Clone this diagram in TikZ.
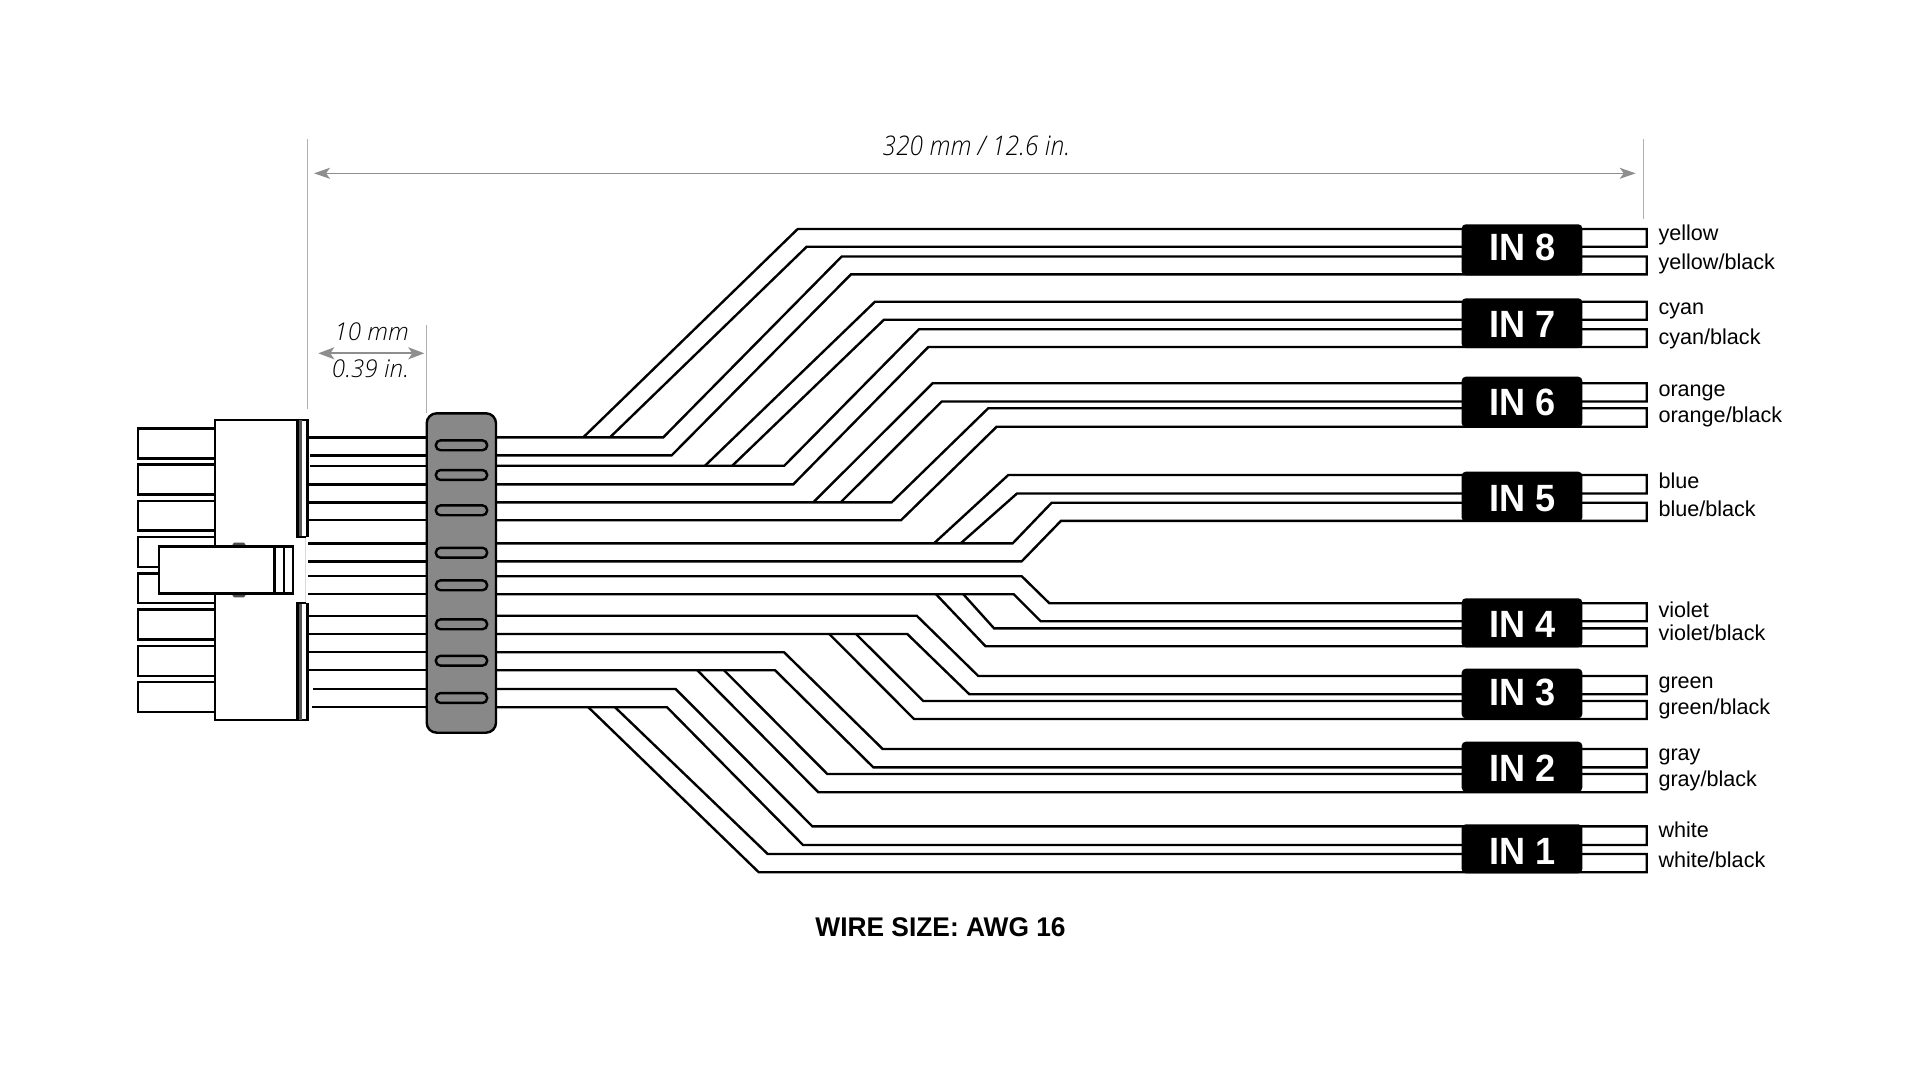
\documentclass[tikz,border=0pt]{standalone}
\usepackage{fontspec}
\usetikzlibrary{arrows.meta}
\setmainfont{Liberation Sans}
\newfontfamily\ltit{Open Sans Light Italic}[FakeStretch=0.91]
\newfontfamily\ltitw{Open Sans Light Italic}[FakeStretch=0.99]
\newfontfamily\inbold{Liberation Sans Bold}[FakeStretch=0.95]
\newfontfamily\wsbold{Liberation Sans Bold}[FakeStretch=0.975]
\definecolor{bandgray}{HTML}{888888}
\definecolor{extgray}{HTML}{B0B0B0}
\definecolor{arrgray}{HTML}{8E8E8E}
\tikzset{
  wire/.style={draw=black,line width=2.4pt,miter limit=10},
  part/.style={draw=black,fill=white,line width=2.4pt},
  extline/.style={draw=extgray,line width=1.5pt},
  bigdim/.style={draw=arrgray,line width=1.3pt,arrows={Stealth[length=16pt,width=11pt,inset=4pt]-Stealth[length=16pt,width=11pt,inset=4pt]}},
  smalldim/.style={draw=arrgray,line width=1.8pt,arrows={Stealth[length=16pt,width=12pt,inset=4pt]-Stealth[length=16pt,width=12pt,inset=4pt]}},
  dimtext/.style={anchor=base,inner sep=0pt,text=black,font=\ltitw\fontsize{24.5}{28}\selectfont},
  inbox/.style={fill=black,rounded corners=4pt,inner sep=0pt,draw=none},
  intext/.style={anchor=base,inner sep=0pt,text=white,font=\inbold\fontsize{38}{42}\selectfont},
  collabel/.style={anchor=base west,inner sep=0pt,text=black,font=\fontsize{21.6}{24}\selectfont},
}
\begin{document}
\begin{tikzpicture}[x=1pt,y=-1pt]
\useasboundingbox (0,0) rectangle (1920,1080);
\fill[white] (0,0) rectangle (1920,1080);
% extension lines and dimensions
\coordinate (extL) at (307.7,139.3);
\coordinate (extLb) at (307.7,409.3);
\coordinate (extR) at (1643.7,139.3);
\coordinate (extRb) at (1643.7,218.7);
\coordinate (extM) at (426.7,325);
\coordinate (extMb) at (426.7,413);
\draw[extline] (extL) -- (extLb);
\draw[extline] (extR) -- (extRb);
\draw[extline] (extM) -- (extMb);
\coordinate (bigL) at (314,173.3);
\coordinate (bigR) at (1635.7,173.3);
\coordinate (smL) at (318.3,353.3);
\coordinate (smR) at (424.3,353.3);
\draw[bigdim] (bigL) -- (bigR);
\draw[smalldim] (smL) -- (smR);
\node[dimtext,font=\ltit\fontsize{27}{30}\selectfont] (dimbig) at (976.3,155.7) {320 mm / 12.6 in.};
\node[dimtext] (dimmm) at (371.7,340.7) {10 mm};
\node[dimtext] (dimin) at (370.5,377.7) {0.39 in.};
% wires left of band
\foreach \ya/\xa in {437.3/308,455.3/310,465.7/310,484.3/308,502.3/308,520/308,543.3/308,561.3/308,576.2/308,594.2/308,615.7/308,634/308,652.2/308,670.2/308,689/313.3,707.2/312.3}
  \draw[wire] (\xa,\ya) -- (430,\ya);
% wires right of band: 16 paths, each out and back
% yellow
\draw[wire] (583.3,437.3) -- (797.7,229) -- (1646.7,229) -- (1646.7,246.7) -- (806.7,246.7) -- (610,437.3);
% yellow/black
\draw[wire] (490,437.3) -- (663.3,437.3) -- (841.7,256.5) -- (1646.7,256.5) -- (1646.7,274.3) -- (851,274.3) -- (671.7,455.3) -- (490,455.3);
% cyan
\draw[wire] (705,465.7) -- (875,301.7) -- (1646.7,301.7) -- (1646.7,319.7) -- (884,319.7) -- (732.3,465.7);
% cyan/black
\draw[wire] (490,465.7) -- (784.3,465.7) -- (919,329.2) -- (1646.7,329.2) -- (1646.7,347) -- (928.3,347) -- (793.3,484.3) -- (490,484.3);
% orange
\draw[wire] (813.3,502.3) -- (932.7,383.2) -- (1646.7,383.2) -- (1646.7,401.5) -- (941.7,401.5) -- (840.7,502.3);
% orange/black
\draw[wire] (490,502.3) -- (891.7,502.3) -- (988.3,408.2) -- (1646.7,408.2) -- (1646.7,426.7) -- (996.7,426.7) -- (901,520.2) -- (490,520.2);
% blue
\draw[wire] (934,543.3) -- (1008.3,475) -- (1646.7,475) -- (1646.7,493.5) -- (1017,493.5) -- (960.7,543.3);
% blue/black
\draw[wire] (490,543.3) -- (1012.7,543.3) -- (1051.7,502.7) -- (1646.7,502.7) -- (1646.7,520.8) -- (1061,520.8) -- (1021.7,561.3) -- (490,561.3);
% violet
\draw[wire] (490,576.2) -- (1021.7,576.2) -- (1049.3,603.2) -- (1646.7,603.2) -- (1646.7,621.2) -- (1040.7,621.2) -- (1013.7,594.2) -- (490,594.2);
% violet/black
\draw[wire] (963.3,594.2) -- (994,628.3) -- (1646.7,628.3) -- (1646.7,646.2) -- (985.5,646.2) -- (936,594.2);
% green
\draw[wire] (490,615.7) -- (916.7,615.7) -- (978.3,676) -- (1646.7,676) -- (1646.7,694.2) -- (969.3,694.2) -- (907.3,634) -- (490,634);
% green/black
\draw[wire] (856,634) -- (923.3,701) -- (1646.7,701) -- (1646.7,719) -- (914,719) -- (829.3,634);
% gray
\draw[wire] (490,652.2) -- (784,652.2) -- (882.7,749) -- (1646.7,749) -- (1646.7,767.3) -- (873.3,767.3) -- (775,670.2) -- (490,670.2);
% gray/black
\draw[wire] (724,670.2) -- (827.3,774) -- (1646.7,774) -- (1646.7,792.2) -- (818.3,792.2) -- (697.3,670.2);
% white
\draw[wire] (490,689) -- (675.7,689) -- (812.3,826.3) -- (1646.7,826.3) -- (1646.7,845) -- (803,845) -- (667,707.2) -- (490,707.2);
% white/black
\draw[wire] (615,707.2) -- (767.7,854) -- (1646.7,854) -- (1646.7,872.2) -- (758.7,872.2) -- (588.3,707.2);
% band
\draw[draw=black,fill=bandgray,line width=2.4pt,rounded corners=10pt] (426.7,413.3) rectangle (496,732.7);
\foreach \yc in {445.3,475,510.3,552.7,585.3,624.3,660.7,698}
  \draw[draw=black,fill=bandgray,line width=2.4pt,rounded corners=4.5pt] (435.9,\yc-4.9) rectangle (487.1,\yc+4.9);
% pins
\foreach \ya/\yb in {428.5/458.3,464.5/494.3,500.7/530.3,537/566.7,573.3/602.7,609.5/639.3,645.7/675.7,682/712}
  \draw[part] (137.7,\ya) rectangle (215,\yb);
% connector body
\fill[white] (214.7,420) rectangle (307.5,720);
\draw[part] (214.7,720) -- (214.7,420) -- (307.5,420) -- (307.5,537);
\draw[part] (214.7,420) -- (214.7,720) -- (307.5,720) -- (307.5,603);
\draw[black!15,line width=1pt] (305.5,537) -- (305.5,603);
\foreach \ya/\yb in {420/537,603/720}{
  \fill[black!65] (297,\ya) rectangle (302.2,\yb);
  \draw[black,line width=2.4pt] (297.5,\ya) -- (297.5,\yb);
}
\draw[black,line width=2.4pt] (296.3,537) -- (306.3,537);
\draw[black,line width=2.4pt] (296.3,603) -- (306.3,603);
% latch
\fill[black!70,rounded corners=1.5pt] (232.7,542.7) rectangle (245.3,548);
\fill[black!70,rounded corners=1.5pt] (232.7,592) rectangle (245.3,597.4);
\draw[part] (159,546.3) rectangle (293,593.3);
\draw[black,line width=2.6pt] (274.5,546.3) -- (274.5,593.3);
\draw[black,line width=1.8pt] (283.8,546.3) -- (283.8,593.3);
% input boxes and labels
\foreach \n/\ya/\yb/\bl in {8/224.3/275.3/260.7,7/298.3/348/337,6/376.7/427.3/415.7,5/471.7/521.7/511,4/598.3/647.3/637.3,3/668.7/718.3/705.3,2/741.7/791.7/781.3,1/824.3/873.3/864}{
  \fill[inbox] (1461.7,\ya) rectangle (1582.3,\yb);
  \node[intext] (in\n) at (1522.5,\bl) {IN \n};
}
\foreach \t/\bl [count=\i] in {yellow/240.7,yellow\slash black/269.3,cyan/314,cyan\slash black/344,orange/396.7,orange\slash black/422.3,blue/488,blue\slash black/516.7,violet/617.3,violet\slash black/640,green/688,green\slash black/714,gray/760,gray\slash black/786,white/837.7,white\slash black/867.7}
  \node[collabel] (lab\i) at (1658.3,\bl) {\t};
\node[anchor=base,inner sep=0pt,text=black,font=\wsbold\fontsize{27}{30}\selectfont] (wsize) at (940.5,936.7) {WIRE SIZE: AWG 16};
\end{tikzpicture}
\end{document}
